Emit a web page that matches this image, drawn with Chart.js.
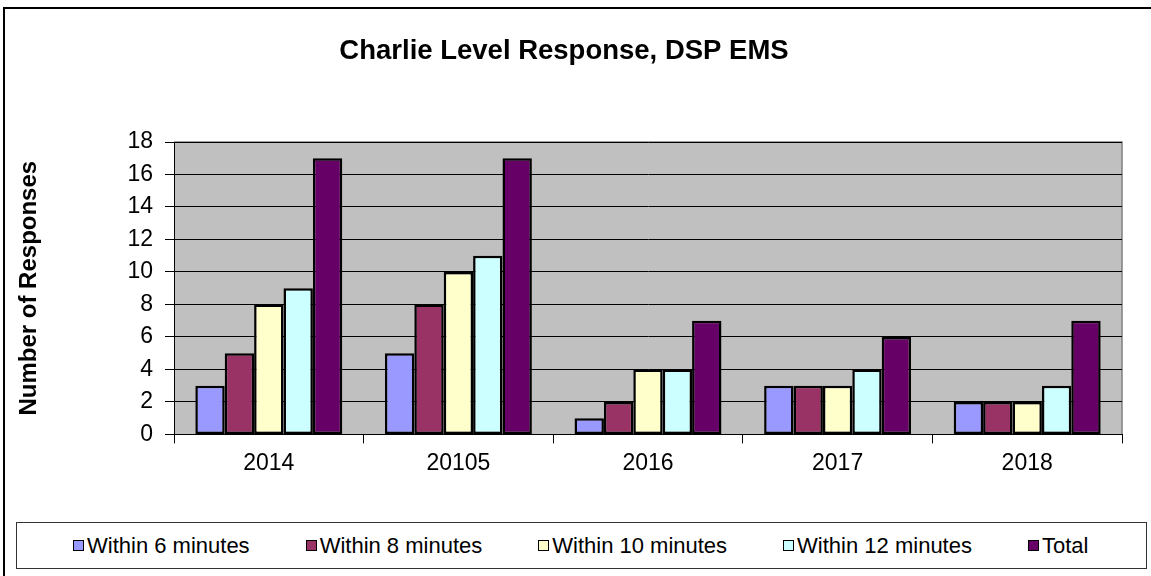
<!DOCTYPE html>
<html>
<head>
<meta charset="utf-8">
<script src="https://cdn.jsdelivr.net/npm/chart.js@4"></script>
<style>
  body { margin: 0; background: #fff; font-family: 'Liberation Sans', Arial, sans-serif; }
  #wrap { position: relative; width: 1151px; height: 576px; overflow: hidden; }
  #frame { position: absolute; left: 3px; top: 7px; width: 1200px; height: 600px; border: 2px solid #000; box-sizing: border-box; }
  #legend { position: absolute; left: 16px; top: 522px; width: 1131px; height: 47px; border: 1px solid #333;
            box-sizing: border-box; display: flex; align-items: center; padding-left: 56px; gap: 56px; background: #fff; }
  .item { display: flex; align-items: center; font-size: 22px; color: #000; white-space: nowrap; }
  .swatch { width: 9px; height: 9px; border: 1.5px solid #000; margin-right: 3px; }
  #chart-box { position: absolute; left: 0; top: 0; width: 1151px; height: 576px; }
</style>
</head>
<body>
<div id="wrap">
  <div id="frame"></div>
  <div id="chart-box"><canvas id="response-chart"></canvas></div>
  <div id="legend"></div>
</div>
<script>
  // Chart values
  const years = ['2014', '20105', '2016', '2017', '2018'];
  const seriesNames = ['Within 6 minutes', 'Within 8 minutes', 'Within 10 minutes', 'Within 12 minutes', 'Total'];
  const within6 = [3, 5, 1, 3, 2];
  const within8 = [5, 8, 2, 3, 2];
  const within10 = [8, 10, 4, 3, 2];
  const within12 = [9, 11, 4, 4, 3];
  const total = [17, 17, 7, 6, 7];
  const yTicks = [0, 2, 4, 6, 8, 10, 12, 14, 16, 18];

  const seriesValues = [within6, within8, within10, within12, total];
  const seriesColors = ['#9999FF', '#993366', '#FFFFCC', '#CCFFFF', '#660066'];

  // Gray plot area with a darker border on top and right
  const plotArea = {
    id: 'plotArea',
    beforeDraw(chart) {
      const { ctx, chartArea: a } = chart;
      ctx.save();
      ctx.fillStyle = '#C0C0C0';
      ctx.fillRect(a.left, a.top, a.right - a.left, a.bottom - a.top);
      ctx.strokeStyle = '#808080';
      ctx.lineWidth = 1.5;
      ctx.beginPath();
      ctx.moveTo(a.left, a.top);
      ctx.lineTo(a.right, a.top);
      ctx.lineTo(a.right, a.bottom);
      ctx.stroke();
      ctx.restore();
    }
  };

  const ctx = document.getElementById('response-chart').getContext('2d');
  const responseChart = new Chart(ctx, {
    type: 'bar',
    data: {
      labels: years,
      datasets: seriesNames.map((name, i) => ({
        label: name,
        data: seriesValues[i],
        backgroundColor: seriesColors[i],
        borderColor: '#000',
        borderWidth: 2.5,
        borderSkipped: false,
        categoryPercentage: 0.775,
        barPercentage: 1.0
      }))
    },
    options: {
      responsive: true,
      maintainAspectRatio: false,
      animation: false,
      layout: { padding: { left: 6, right: 29, top: 0, bottom: 93 } },
      plugins: {
        legend: { display: false },
        tooltip: { enabled: false },
        title: {
          display: true,
          text: 'Charlie Level Response, DSP EMS',
          color: '#000',
          font: { family: "'Liberation Sans', Arial, sans-serif", size: 27.5, weight: 'bold' },
          padding: { top: 35, bottom: 74 }
        }
      },
      scales: {
        x: {
          grid: { display: true, drawOnChartArea: false, offset: true, tickLength: 9, color: '#000' },
          border: { color: '#000', width: 1 },
          ticks: {
            color: '#000',
            padding: 6,
            font: { family: "'Liberation Sans', Arial, sans-serif", size: 23 }
          }
        },
        y: {
          min: 0,
          max: 18,
          afterBuildTicks: scale => { scale.ticks = yTicks.map(v => ({ value: v })); },
          afterFit: scale => { scale.width = 168; },
          grid: { color: '#000', tickLength: 9, lineWidth: 1 },
          border: { color: '#000', width: 1 },
          ticks: {
            color: '#000',
            padding: 12,
            font: { family: "'Liberation Sans', Arial, sans-serif", size: 23 }
          },
          title: {
            display: true,
            text: 'Number of Responses',
            color: '#000',
            padding: { top: 9, bottom: 0 },
            font: { family: "'Liberation Sans', Arial, sans-serif", size: 24, weight: 'bold' }
          }
        }
      }
    },
    plugins: [plotArea]
  });

  // Legend box built from the same series
  const legendEl = document.getElementById('legend');
  seriesNames.forEach((name, i) => {
    const item = document.createElement('div');
    item.className = 'item';
    const sw = document.createElement('span');
    sw.className = 'swatch';
    sw.style.background = seriesColors[i];
    item.appendChild(sw);
    item.appendChild(document.createTextNode(name));
    legendEl.appendChild(item);
  });
</script>
</body>
</html>
